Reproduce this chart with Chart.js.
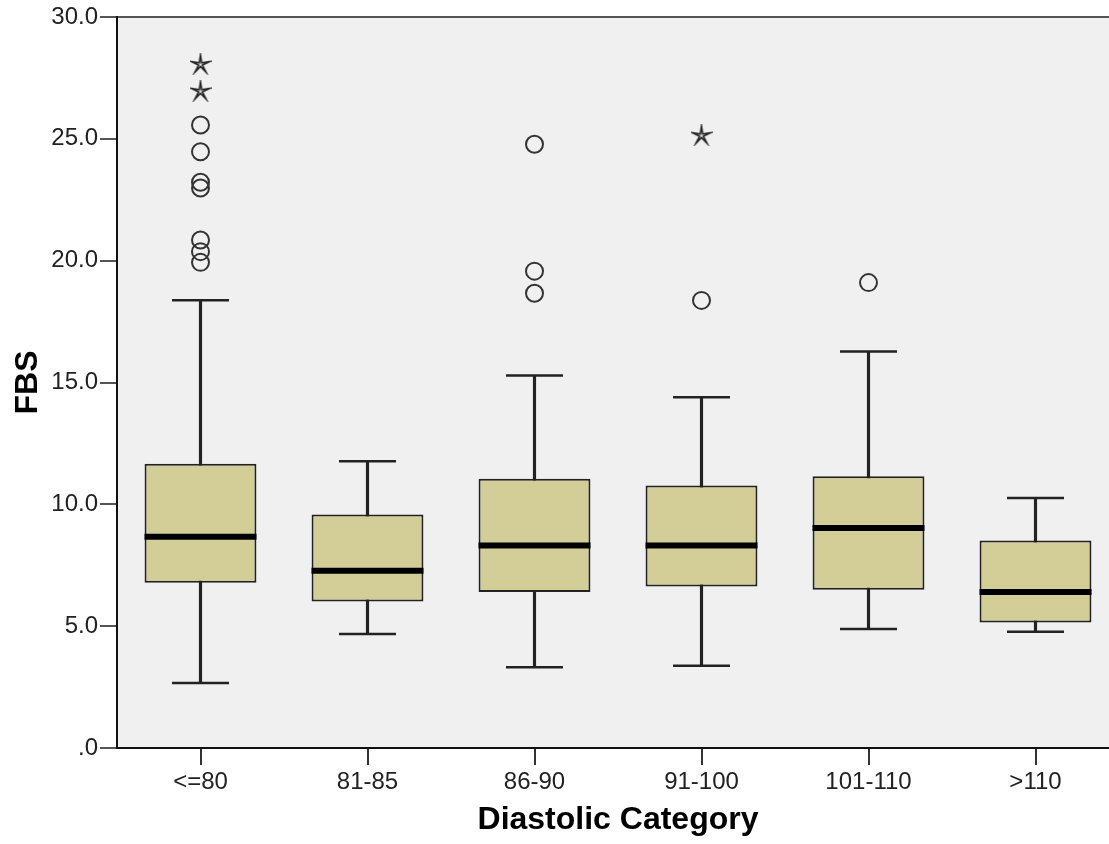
<!DOCTYPE html>
<html>
<head>
<meta charset="utf-8">
<script src="https://cdn.jsdelivr.net/npm/chart.js@4"></script>
<style>
  body { margin: 0; background: #fff; overflow: hidden; }
  #wrap { width: 1109px; height: 844px; overflow: hidden; }
</style>
</head>
<body>
<div id="wrap"><canvas id="boxChart" width="1125" height="844"></canvas></div>
<script>
const categories  = ['<=80', '81-85', '86-90', '91-100', '101-110', '>110'];
const whiskerLow  = [2.67, 4.68, 3.31, 3.38, 4.88, 4.77];
const q1          = [6.78, 6.01, 6.40, 6.63, 6.49, 5.15];
const medians     = [8.67, 7.27, 8.31, 8.31, 9.03, 6.40];
const q3          = [11.67, 9.58, 11.05, 10.77, 11.15, 8.52];
const whiskerHigh = [18.38, 11.77, 15.29, 14.39, 16.27, 10.26];

// outliers (circles) and extremes (stars)
const outlierCats = ['<=80', '<=80', '<=80', '<=80', '<=80', '<=80', '<=80', '86-90', '86-90', '86-90', '91-100', '101-110'];
const outlierVals = [25.57, 24.47, 23.22, 22.98, 20.85, 20.37, 19.93, 24.78, 19.57, 18.66, 18.37, 19.10];
const extremeCats = ['<=80', '<=80', '91-100'];
const extremeVals = [28.07, 26.97, 25.15];

const yTicks = [0, 5, 10, 15, 20, 25, 30];

const font = 'Liberation Sans, Arial, sans-serif';

// 5 armed star like SPSS extreme marker
function makeStar() {
    const c = document.createElement('canvas');
    c.width = 22; c.height = 22;
    const g = c.getContext('2d');
    g.strokeStyle = '#222';
    g.lineWidth = 1.6;
    g.beginPath();
    for (let i = 0; i < 10; i++) {
        const r = i % 2 ? 2.0 : 9.5;
        const a = -Math.PI / 2 + i * Math.PI / 5;
        const px = 11 + r * Math.cos(a), py = 11.5 + r * Math.sin(a);
        if (i) g.lineTo(px, py); else g.moveTo(px, py);
    }
    g.closePath();
    g.stroke();
    return c;
}

const plotBg = {
    id: 'plotBg',
    beforeDraw(chart) {
        const { ctx, chartArea: a } = chart;
        ctx.save();
        ctx.fillStyle = '#f0f0f0';
        ctx.fillRect(a.left, a.top, a.right - a.left, a.bottom - a.top);
        ctx.restore();
    }
};

new Chart(document.getElementById('boxChart'), {
    type: 'bar',
    data: {
        labels: categories,
        datasets: [
            {
                // whisker stems
                type: 'bar',
                data: categories.map((c, i) => [whiskerLow[i], whiskerHigh[i]]),
                backgroundColor: '#222',
                barThickness: 2.5,
                grouped: false,
                order: 5
            },
            {
                // boxes
                type: 'bar',
                data: categories.map((c, i) => [q1[i], q3[i]]),
                backgroundColor: '#d3ce97',
                borderColor: '#222',
                borderWidth: 2,
                borderSkipped: false,
                barPercentage: 0.67,
                categoryPercentage: 1,
                grouped: false,
                order: 4
            },
            {
                type: 'line',
                data: medians,
                showLine: false,
                pointStyle: 'line',
                pointRadius: 56,
                pointBorderWidth: 6,
                pointBorderColor: '#000',
                order: 2
            },
            {
                type: 'line',
                data: whiskerLow,
                showLine: false,
                pointStyle: 'line',
                pointRadius: 28.5,
                pointBorderWidth: 2.5,
                pointBorderColor: '#222',
                order: 3
            },
            {
                type: 'line',
                data: whiskerHigh,
                showLine: false,
                pointStyle: 'line',
                pointRadius: 28.5,
                pointBorderWidth: 2.5,
                pointBorderColor: '#222',
                order: 3
            },
            {
                type: 'line',
                data: outlierCats.map((c, i) => ({ x: c, y: outlierVals[i] })),
                showLine: false,
                pointStyle: 'circle',
                pointRadius: 8.5,
                pointBorderWidth: 2,
                pointBorderColor: '#333',
                pointBackgroundColor: 'rgba(0,0,0,0)',
                order: 1
            },
            {
                type: 'line',
                data: extremeCats.map((c, i) => ({ x: c, y: extremeVals[i] })),
                showLine: false,
                pointStyle: makeStar(),
                order: 1
            }
        ]
    },
    options: {
        responsive: false,
        animation: false,
        layout: { autoPadding: false, padding: { top: 17, right: 6, bottom: 0, left: 0 } },
        plugins: { legend: { display: false }, tooltip: { enabled: false } },
        scales: {
            x: {
                offset: true,
                border: { color: '#111', width: 2 },
                grid: { offset: false, drawOnChartArea: false, tickLength: 17, tickColor: '#333', lineWidth: 2 },
                ticks: { color: '#222', font: { family: font, size: 24 }, padding: 3, maxRotation: 0 },
                title: { display: true, text: 'Diastolic Category', color: '#000', font: { family: font, size: 32, weight: 'bold' }, padding: { top: 0, bottom: 5 } },
                afterFit: s => { s.height = 96; }
            },
            y: {
                min: 0,
                max: 30,
                afterBuildTicks: s => { s.ticks = yTicks.map(v => ({ value: v })); },
                border: { color: '#111', width: 2 },
                grid: {
                    color: c => (c.tick && c.tick.value === 30 ? '#555' : 'rgba(0,0,0,0)'),
                    tickColor: '#555',
                    tickLength: 17,
                    lineWidth: 2
                },
                ticks: {
                    color: '#222',
                    font: { family: font, size: 24 },
                    padding: 2,
                    callback: v => (v === 0 ? '.0' : v.toFixed(1))
                },
                title: { display: true, text: 'FBS', color: '#000', font: { family: font, size: 32, weight: 'bold' }, padding: { top: 9, bottom: 0 } },
                afterFit: s => { s.width = 117; }
            }
        }
    },
    plugins: [plotBg]
});
</script>
</body>
</html>
